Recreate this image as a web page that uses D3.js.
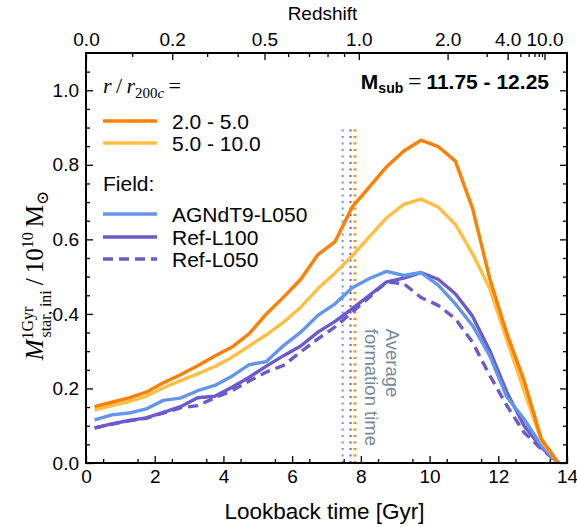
<!DOCTYPE html>
<html>
<head>
<meta charset="utf-8">
<script src="https://cdn.jsdelivr.net/npm/d3@7"></script>
<style>
  body { margin: 0; background: #fff; }
  svg text { font-family: "Liberation Sans", Arial, sans-serif; }
</style>
</head>
<body>
<svg id="chart" width="577" height="527"></svg>
<script>
// lookback time bins [Gyr]
const times = [0.25, 0.75, 1.25, 1.75, 2.25, 2.75, 3.25, 3.75, 4.25, 4.75, 5.25, 5.75, 6.25, 6.75,
               7.25, 7.75, 8.25, 8.75, 9.25, 9.75, 10.25, 10.75, 11.25, 11.75, 12.25, 12.75, 13.25, 13.75];

const r2to5  = [0.151, 0.163, 0.175, 0.190, 0.215, 0.237, 0.261, 0.287, 0.311, 0.347, 0.400, 0.445, 0.493, 0.559,
                0.594, 0.687, 0.741, 0.795, 0.837, 0.866, 0.849, 0.810, 0.683, 0.495, 0.347, 0.221, 0.065, 0.0];
const r5to10 = [0.142, 0.154, 0.165, 0.179, 0.202, 0.221, 0.239, 0.259, 0.284, 0.314, 0.344, 0.378, 0.418, 0.468,
                0.510, 0.556, 0.607, 0.658, 0.694, 0.708, 0.687, 0.640, 0.562, 0.468, 0.329, 0.194, 0.060, 0.0];
const agnL050 = [0.116, 0.129, 0.134, 0.145, 0.168, 0.174, 0.194, 0.208, 0.233, 0.264, 0.272, 0.315, 0.351, 0.396,
                 0.427, 0.470, 0.495, 0.514, 0.503, 0.511, 0.477, 0.427, 0.369, 0.288, 0.177, 0.118, 0.047, 0.0];
const refL100 = [0.094, 0.105, 0.114, 0.121, 0.136, 0.151, 0.175, 0.179, 0.203, 0.230, 0.260, 0.288, 0.314, 0.351,
                 0.380, 0.414, 0.450, 0.486, 0.496, 0.511, 0.493, 0.454, 0.394, 0.302, 0.190, 0.100, 0.042, 0.0];
const refL050 = [0.094, 0.104, 0.113, 0.120, 0.134, 0.148, 0.154, 0.175, 0.194, 0.220, 0.244, 0.262, 0.298, 0.333,
                 0.365, 0.405, 0.445, 0.486, 0.481, 0.444, 0.423, 0.387, 0.324, 0.235, 0.154, 0.082, 0.038, 0.0];

// average formation times [Gyr]
const formTimes = [7.47, 7.70, 7.80, 7.84];

const xTicks = [0, 2, 4, 6, 8, 10, 12, 14];
const yTicks = [0.0, 0.2, 0.4, 0.6, 0.8, 1.0];
const zMajor = [0.0, 0.2, 0.5, 1.0, 2.0, 4.0, 10.0];
const zMinor = [0.1, 0.3, 0.4, 0.6, 0.7, 0.8, 0.9, 3, 5, 6, 7, 8, 9];

const C = { orange: "#ff7f00", yellow: "#ffbf45", blue: "#6495ed", purple: "#6a5acd", grey: "#778899" };

const series = [
  { name: "2.0 - 5.0",   vals: r2to5,   color: C.orange, dash: null },
  { name: "5.0 - 10.0",  vals: r5to10,  color: C.yellow, dash: null },
  { name: "AGNdT9-L050", vals: agnL050, color: C.blue,   dash: null },
  { name: "Ref-L100",    vals: refL100, color: C.purple, dash: null },
  { name: "Ref-L050",    vals: refL050, color: C.purple, dash: "10,6" }
];
const formColors = [C.blue, C.purple, C.yellow, C.orange];

// lookback time for flat LCDM (Planck)
function lookback(z) {
  const tH = 977.8 / 67.77, OL = 0.693, Om = 0.307;
  const age = zz => 2 / (3 * Math.sqrt(OL)) * tH * Math.asinh(Math.sqrt(OL / Om) * Math.pow(1 + zz, -1.5));
  return age(0) - age(z);
}

const svg = d3.select("#chart");
const margin = { top: 53, right: 10, bottom: 64, left: 86 };
const width = 577 - margin.left - margin.right;
const height = 527 - margin.top - margin.bottom;
const g = svg.append("g").attr("transform", "translate(" + margin.left + "," + margin.top + ")");

const x = d3.scaleLinear().domain([0, 14]).range([0, width]);
const y = d3.scaleLinear().domain([0, 1.1]).range([height, 0]);

// formation time markers
g.selectAll(".ftime")
  .data(formTimes)
  .enter().append("line")
  .attr("x1", d => x(d)).attr("x2", d => x(d))
  .attr("y1", y(0)).attr("y2", y(0.9))
  .attr("stroke", (d, i) => formColors[i])
  .attr("stroke-width", 2)
  .attr("stroke-dasharray", "2,4.5");

const ft = g.append("text")
  .attr("transform", "translate(" + (x(8.72)) + "," + y(0.36) + ") rotate(90)")
  .attr("fill", C.grey)
  .style("font-size", "18.5px");
ft.append("tspan").attr("x", 0).attr("dy", 0).text("Average");
ft.append("tspan").attr("x", 0).attr("dy", "1.12em").text("formation time");

// curves
const line = d3.line().x(d => x(d[0])).y(d => y(d[1]));
series.slice().reverse().forEach(s => {
  g.append("path")
    .datum(times.map((t, i) => [t, s.vals[i]]))
    .attr("fill", "none")
    .attr("stroke", s.color)
    .attr("stroke-width", 3.4)
    .attr("stroke-linejoin", "round")
    .attr("stroke-dasharray", s.dash)
    .attr("d", line);
});

// axes
const fontTick = "19px";
g.append("g").attr("transform", "translate(0," + height + ")")
  .call(d3.axisBottom(x).tickValues(xTicks).tickFormat(d3.format("d")).tickSizeInner(-7).tickSizeOuter(0).tickPadding(7));
g.append("g").attr("transform", "translate(0," + height + ")")
  .call(d3.axisBottom(x).tickValues(d3.range(0.5, 14, 1)).tickFormat("").tickSizeInner(-4).tickSizeOuter(0));

const yMinor = d3.range(0.05, 1.1, 0.05).filter((d, i) => i % 4 !== 3);
g.append("g")
  .call(d3.axisLeft(y).tickValues(yTicks).tickFormat(d3.format(".1f")).tickSizeInner(-7).tickSizeOuter(0).tickPadding(7));
g.append("g")
  .call(d3.axisLeft(y).tickValues(yMinor).tickFormat("").tickSizeInner(-4).tickSizeOuter(0));
g.append("g").attr("transform", "translate(" + width + ",0)")
  .call(d3.axisRight(y).tickValues(yTicks).tickFormat("").tickSizeInner(-7).tickSizeOuter(0));
g.append("g").attr("transform", "translate(" + width + ",0)")
  .call(d3.axisRight(y).tickValues(yMinor).tickFormat("").tickSizeInner(-4).tickSizeOuter(0));

// redshift axis on top
g.append("g")
  .call(d3.axisTop(x).tickValues(zMajor.map(lookback)).tickFormat((d, i) => d3.format(".1f")(zMajor[i])).tickSizeInner(-7).tickSizeOuter(0).tickPadding(7));
g.append("g")
  .call(d3.axisTop(x).tickValues(zMinor.map(lookback)).tickFormat("").tickSizeInner(-4).tickSizeOuter(0));

g.selectAll(".domain").remove();
g.selectAll(".tick line").attr("stroke", "#000").attr("stroke-width", 1.3);
g.selectAll(".tick text").attr("fill", "#000").style("font-size", fontTick)
  .style("font-family", "Liberation Sans, Arial, sans-serif");

g.append("rect").attr("width", width).attr("height", height)
  .attr("fill", "none").attr("stroke", "#000").attr("stroke-width", 2);

// axis titles
svg.append("text").attr("x", margin.left + width / 2 - 2).attr("y", 519)
  .attr("text-anchor", "middle").style("font-size", "22.5px").text("Lookback time [Gyr]");
svg.append("text").attr("x", margin.left + width / 2 - 4).attr("y", 20)
  .attr("text-anchor", "middle").style("font-size", "19px").text("Redshift");

// y label in math style
const serif = "Liberation Serif, DejaVu Serif, serif";
const yl = svg.append("g").attr("transform", "translate(43,260) rotate(-90)");
const ylab = yl.append("text").attr("text-anchor", "start").style("font-family", serif).style("font-size", "25px");
ylab.append("tspan").style("font-style", "italic").text("M");
ylab.append("tspan").attr("dy", -10).style("font-size", "16px").text("1Gyr");
ylab.append("tspan").attr("dy", 18).attr("dx", -31).style("font-size", "16px").text("star, ini");
ylab.append("tspan").attr("dy", -8).text("\u2009/\u200910");
ylab.append("tspan").attr("dy", -10).style("font-size", "16px").text("10");
ylab.append("tspan").attr("dy", 10).text("\u2009M");
ylab.append("tspan").attr("dy", 5).style("font-size", "17px").text("\u2299");
const yw = ylab.node().getComputedTextLength();
ylab.attr("x", -yw / 2);

// M_sub annotation
const ms = svg.append("text").attr("x", 549).attr("y", 89).attr("text-anchor", "end")
  .style("font-size", "21px").style("font-weight", "bold");
ms.append("tspan").text("M");
ms.append("tspan").attr("dy", 4).style("font-size", "14px").text("sub");
ms.append("tspan").attr("dy", -4).style("font-family", serif).style("font-weight", "normal").style("font-size", "24px").text("\u2009=\u2009");
ms.append("tspan").text("11.75 - 12.25");

// legend
const lg = svg.append("g");
const rr = lg.append("text").attr("x", 103).attr("y", 93).style("font-family", serif).style("font-size", "22px");
rr.append("tspan").style("font-style", "italic").text("r");
rr.append("tspan").text("\u2009/\u2009");
rr.append("tspan").style("font-style", "italic").text("r");
rr.append("tspan").attr("dy", 5).style("font-size", "15px").text("200");
rr.append("tspan").style("font-size", "15px").style("font-style", "italic").text("c");
rr.append("tspan").attr("dy", -5).text("\u2009=");

lg.append("text").attr("x", 103).attr("y", 191).style("font-size", "21px").text("Field:");

const legY = [121, 143, 214, 237, 259];
series.forEach((s, i) => {
  lg.append("line").attr("x1", 103).attr("x2", 157).attr("y1", legY[i]).attr("y2", legY[i])
    .attr("stroke", s.color).attr("stroke-width", 3.4).attr("stroke-dasharray", s.dash);
  lg.append("text").attr("x", 172).attr("y", legY[i] + 7.5).style("font-size", "21px").text(s.name);
});
</script>
</body>
</html>
